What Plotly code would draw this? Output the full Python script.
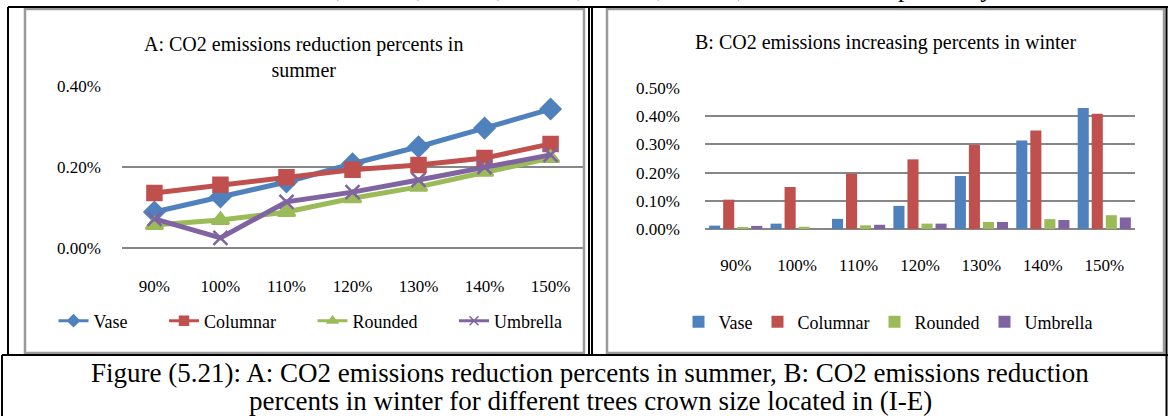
import plotly.graph_objects as go

W, H = 1168, 416

categories = ["90%", "100%", "110%", "120%", "130%", "140%", "150%"]
series_names = ["Vase", "Columnar", "Rounded", "Umbrella"]

# A: summer reduction (%)
summer_vase = [0.089, 0.126, 0.163, 0.208, 0.250, 0.296, 0.343]
summer_columnar = [0.136, 0.156, 0.175, 0.193, 0.205, 0.222, 0.257]
summer_rounded = [0.057, 0.069, 0.089, 0.123, 0.151, 0.188, 0.222]
summer_umbrella = [0.072, 0.025, 0.114, 0.138, 0.168, 0.200, 0.230]

# B: winter increase (%)
winter_vase = [0.012, 0.019, 0.036, 0.082, 0.188, 0.314, 0.429]
winter_columnar = [0.104, 0.149, 0.196, 0.247, 0.298, 0.349, 0.409]
winter_rounded = [0.005, 0.008, 0.013, 0.019, 0.025, 0.035, 0.049]
winter_umbrella = [0.011, 0.000, 0.015, 0.019, 0.025, 0.032, 0.041]

title_a = "A: CO2 emissions reduction percents in<br>summer"
title_b = "B: CO2 emissions increasing percents in winter"
caption_1 = "Figure (5.21): A: CO2 emissions reduction percents in summer, B: CO2 emissions reduction"
caption_2 = "percents in winter for different trees crown size located in (I-E)"
top_text = "values of 0.03%, 0.06%, 0.07%, 0.07%, 0.06%, 0.07%, and 0.06% respectively."

colors = ["#4F81BD", "#C0504D", "#9BBB59", "#8064A2"]
symbols = ["diamond", "square", "triangle-up", "x-thin"]
FONT = "Liberation Serif"
PAD = "\u00a0" * 7


def px(x):
    return x / W


def py(y):
    return 1 - y / H


fig = go.Figure()

summer = [summer_vase, summer_columnar, summer_rounded, summer_umbrella]
winter = [winter_vase, winter_columnar, winter_rounded, winter_umbrella]

msizes = [15, 14, 15, 14]
for name, vals, c, s, ms in zip(series_names, summer, colors, symbols, msizes):
    fig.add_trace(go.Scatter(
        x=categories, y=[v / 100 for v in vals], name=name, mode="lines+markers",
        line=dict(color=c, width=5),
        marker=dict(symbol=s, size=ms, color=c, line=dict(color=c, width=2.5)),
        xaxis="x", yaxis="y", showlegend=False, legendgroup=name,
    ))
    # legend entry with the smaller legend symbol used in the reference
    fig.add_trace(go.Scatter(
        x=[None], y=[None], name=name + PAD, mode="lines+markers",
        line=dict(color=c, width=3),
        marker=dict(symbol=s, size=9, color=c, line=dict(color=c, width=1.5)),
        xaxis="x", yaxis="y", legend="legend", legendgroup=name,
    ))

for name, vals, c in zip(series_names, winter, colors):
    fig.add_trace(go.Bar(
        x=categories, y=[v / 100 for v in vals], name=name,
        marker=dict(color=c, line=dict(width=0)),
        xaxis="x2", yaxis="y2", legend="legend2",
    ))

grid = "#878787"
tickfont = dict(family=FONT, size=17, color="black")

shapes = []
# chart borders (gray)
for (x0, x1) in [(25, 584), (607, 1164)]:
    shapes.append(dict(type="rect", xref="paper", yref="paper",
                       x0=px(x0), x1=px(x1), y0=py(353), y1=py(9),
                       line=dict(color="#9a9a9a", width=2.5)))
# table lines (black)
black = dict(color="black", width=2)
shapes += [
    dict(type="line", xref="paper", yref="paper", x0=px(8), x1=px(1168), y0=py(7), y1=py(7), line=black),
    dict(type="line", xref="paper", yref="paper", x0=px(8), x1=px(8), y0=py(7), y1=py(355), line=black),
    dict(type="line", xref="paper", yref="paper", x0=px(589), x1=px(589), y0=py(7), y1=py(355), line=black),
    dict(type="line", xref="paper", yref="paper", x0=px(592), x1=px(592), y0=py(7), y1=py(355), line=black),
    dict(type="line", xref="paper", yref="paper", x0=px(1166.5), x1=px(1166.5), y0=py(7), y1=py(416), line=black),
    dict(type="line", xref="paper", yref="paper", x0=px(2), x1=px(1168), y0=py(355), y1=py(355), line=black),
    dict(type="line", xref="paper", yref="paper", x0=px(2), x1=px(2), y0=py(355), y1=py(416), line=black),
]

annotations = [
    dict(text=title_a, x=px(303), y=py(57), xref="paper", yref="paper", showarrow=False,
         font=dict(family=FONT, size=20, color="black"), xanchor="center", yanchor="middle"),
    dict(text=title_b, x=px(885), y=py(43), xref="paper", yref="paper", showarrow=False,
         font=dict(family=FONT, size=20, color="black"), xanchor="center", yanchor="middle"),
    dict(text=caption_1, x=px(590), y=py(373), xref="paper", yref="paper", showarrow=False,
         font=dict(family=FONT, size=27, color="black"), xanchor="center", yanchor="middle"),
    dict(text=caption_2, x=px(590), y=py(401), xref="paper", yref="paper", showarrow=False,
         font=dict(family=FONT, size=27, color="black"), xanchor="center", yanchor="middle"),
    dict(text=top_text, x=px(583), y=py(-11), xref="paper", yref="paper", showarrow=False,
         font=dict(family=FONT, size=26, color="black"), xanchor="center", yanchor="middle"),
]

fig.update_layout(
    width=W, height=H,
    margin=dict(l=0, r=0, t=0, b=0, pad=0, autoexpand=False),
    paper_bgcolor="white", plot_bgcolor="white",
    showlegend=True,
    barmode="group", bargap=0.086, bargroupgap=0.21,
    font=dict(family=FONT, color="black"),
    xaxis=dict(domain=[px(122), px(583)], anchor="y", type="category",
               categoryorder="array", categoryarray=categories,
               showgrid=False, showline=False, ticks="", tickfont=tickfont,
               ticklabelstandoff=26, fixedrange=True, automargin=False),
    yaxis=dict(domain=[py(248), py(86)], anchor="x", range=[0, 0.004],
               tickvals=[0, 0.002, 0.004], tickformat=".2%",
               showgrid=True, gridcolor=grid, gridwidth=1.8, zeroline=True,
               zerolinecolor=grid, zerolinewidth=1.8, showline=False, ticks="",
               tickfont=tickfont, ticklabelstandoff=20, automargin=False),
    xaxis2=dict(domain=[px(705), px(1135)], anchor="y2", type="category",
                showgrid=False, showline=False, ticks="", tickfont=tickfont,
                ticklabelstandoff=24, automargin=False),
    yaxis2=dict(domain=[py(229), py(88)], anchor="x2", range=[0, 0.005],
                tickvals=[0, 0.001, 0.002, 0.003, 0.004, 0.005], tickformat=".2%",
                showgrid=True, gridcolor=grid, gridwidth=1.8, zeroline=True,
                zerolinecolor=grid, zerolinewidth=1.8, showline=False, ticks="",
                tickfont=tickfont, ticklabelstandoff=24, automargin=False),
    legend=dict(orientation="h", x=px(326), y=py(321), xanchor="center", yanchor="middle",
                font=dict(family=FONT, size=18, color="black"), bgcolor="rgba(0,0,0,0)",
                itemwidth=30, tracegroupgap=0),
    legend2=dict(orientation="h", x=px(888), y=py(322), xanchor="center", yanchor="middle",
                 font=dict(family=FONT, size=18, color="black"), bgcolor="rgba(0,0,0,0)",
                 itemwidth=30),
    shapes=shapes,
    annotations=annotations,
)

fig.write_html("out.html", config={"displayModeBar": False},
               post_script="document.body.style.margin='0';document.body.style.overflow='hidden';")
